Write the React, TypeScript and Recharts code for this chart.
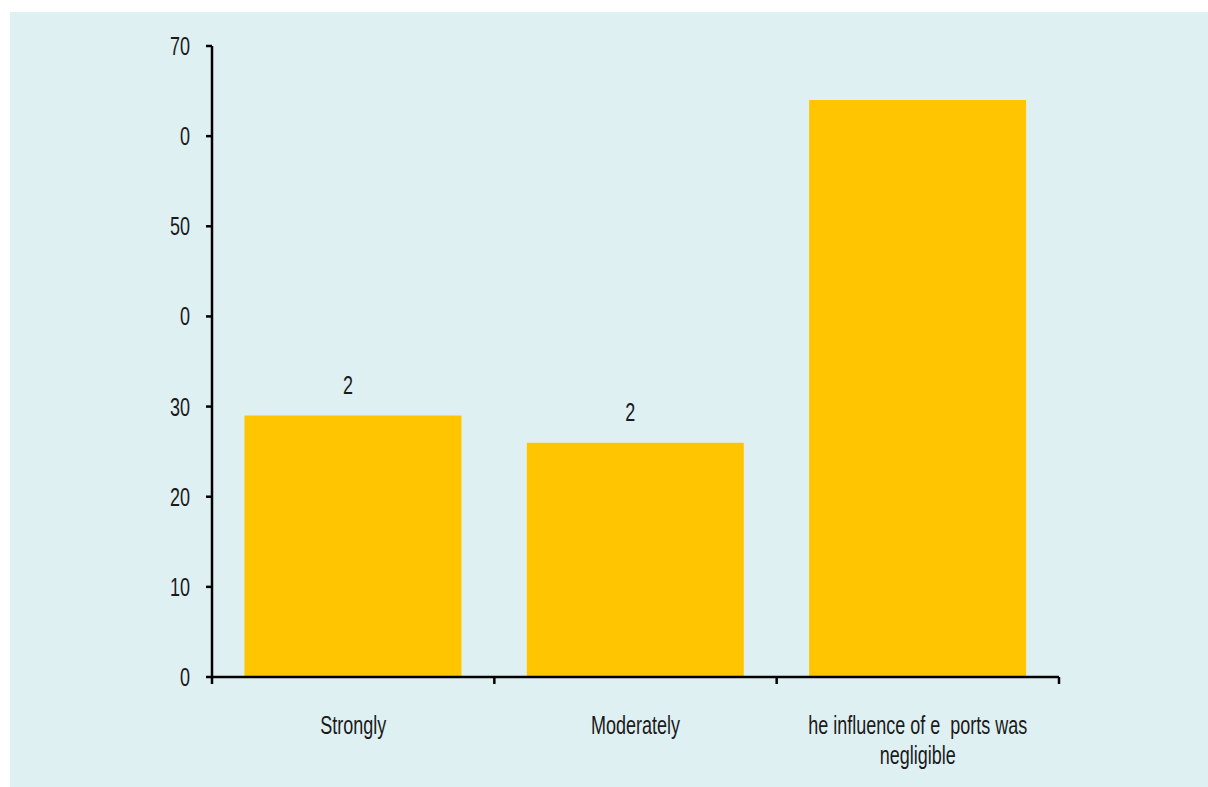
import { BarChart, Bar, XAxis, YAxis, LabelList } from "recharts";

const categories = ["Strongly", "Moderately", "he influence of e  ports was\nnegligible"];
const shares = [29, 26, 64];
const barLabels = ["2", "2", ""];
const yTicks = [0, 10, 20, 30, 40, 50, 60, 70];
const yTickLabels = ["0", "10", "20", "30", "0", "50", "0", "70"];

const data = categories.map((name, i) => ({ name, value: shares[i], label: barLabels[i] }));

const FONT = '"Liberation Sans", Arial, sans-serif';
const FONT_SIZE = 25;
const SQUEEZE = 0.72; // narrow face: Liberation Sans squeezed horizontally
const INK = "#1a1a1a";
const CHART_W = 1198;
const CHART_H = 775;
const MARGIN = { top: 34, right: 149, bottom: 30, left: 142 };
const Y_AXIS_W = 60;
const PLOT_W = CHART_W - MARGIN.left - MARGIN.right - Y_AXIS_W;
const BAND = PLOT_W / categories.length;

const NarrowText = ({ x, y, anchor, children }: { x: number; y: number; anchor: string; children: any }) => (
  <text
    transform={`translate(${x},${y}) scale(${SQUEEZE},1)`}
    textAnchor={anchor}
    fill={INK}
    fontSize={FONT_SIZE}
    fontFamily={FONT}
    style={{ whiteSpace: "pre" }}
  >
    {children}
  </text>
);

// category label plus Excel-style tick marks on the band boundaries
const CategoryTick = (props: any) => {
  const { x, y, payload, index } = props;
  const lines = String(payload.value).split("\n");
  const left = x - BAND / 2;
  return (
    <g>
      <line x1={left} y1={y} x2={left} y2={y + 7} stroke="#000" strokeWidth={2.5} />
      {index === categories.length - 1 && (
        <line x1={x + BAND / 2} y1={y} x2={x + BAND / 2} y2={y + 7} stroke="#000" strokeWidth={2.5} />
      )}
      {lines.map((line: string, i: number) => (
        <NarrowText key={i} x={x} y={y + 57 + i * 30} anchor="middle">
          {line}
        </NarrowText>
      ))}
    </g>
  );
};

const ValueTick = (props: any) => {
  const { x, y, index } = props;
  return (
    <NarrowText x={x} y={y + 9} anchor="end">
      {yTickLabels[index]}
    </NarrowText>
  );
};

const BarValue = (props: any) => {
  const { x, y, width, index } = props;
  const text = barLabels[index];
  if (!text) return null;
  return (
    <NarrowText x={x + width / 2 - 5} y={y - 22} anchor="middle">
      {text}
    </NarrowText>
  );
};

export default function App() {
  return (
    <div
      style={{
        position: "absolute",
        left: 10,
        top: 12,
        width: CHART_W,
        height: CHART_H,
        background: "#dff0f3",
      }}
    >
      <BarChart width={CHART_W} height={CHART_H} data={data} margin={MARGIN} barCategoryGap="11.5%">
        <XAxis
          dataKey="name"
          height={80}
          interval={0}
          tickLine={false}
          tickSize={0}
          tickMargin={0}
          axisLine={{ stroke: "#000", strokeWidth: 2.5 }}
          tick={<CategoryTick />}
        />
        <YAxis
          width={Y_AXIS_W}
          domain={[0, 70]}
          ticks={yTicks}
          interval={0}
          tickSize={6}
          tickMargin={16}
          axisLine={{ stroke: "#000", strokeWidth: 2.5 }}
          tickLine={{ stroke: "#000", strokeWidth: 2.5 }}
          tick={<ValueTick />}
        />
        <Bar dataKey="value" fill="#ffc600" isAnimationActive={false}>
          <LabelList dataKey="label" content={<BarValue />} />
        </Bar>
      </BarChart>
    </div>
  );
}
